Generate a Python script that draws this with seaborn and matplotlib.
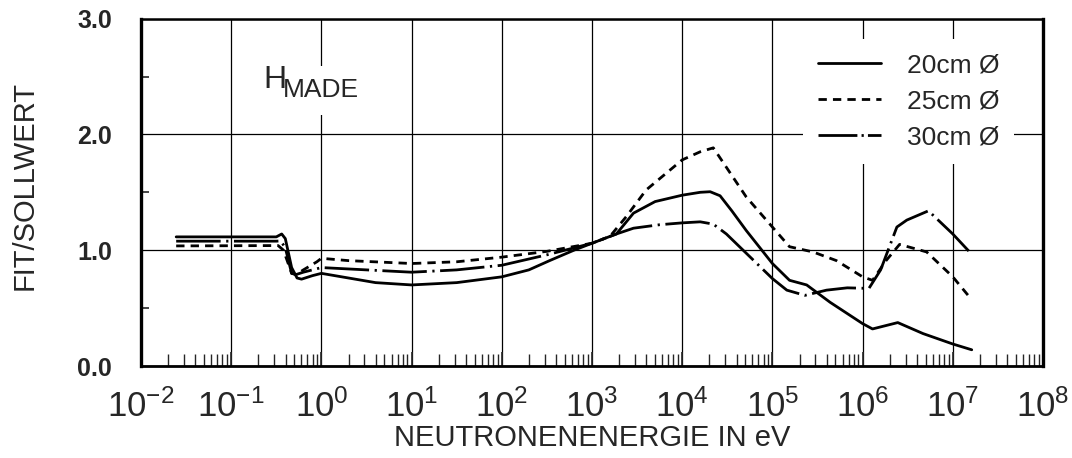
import numpy as np
import pandas as pd
import seaborn as sns
import matplotlib
matplotlib.use("Agg")
import matplotlib.pyplot as plt
from matplotlib import font_manager
from matplotlib.ticker import LogLocator, FixedLocator, MultipleLocator, LogFormatterSciNotation, FormatStrFormatter
from matplotlib.lines import Line2D

# log10 of neutron energy (eV) and fit/target ratio for each sphere diameter
logE_20 = [-1.61, -0.50, -0.44, -0.40, -0.33, -0.27, -0.22, -0.10, 0.00, 0.30, 0.60, 1.00,
           1.50, 2.00, 2.30, 2.53, 2.80, 3.00, 3.27, 3.46, 3.70, 4.00, 4.20, 4.31, 4.42, 4.55,
           4.71, 5.00, 5.19, 5.38, 5.64, 6.00, 6.11, 6.39, 6.67, 7.00, 7.21]
ratio_20 = [1.115, 1.115, 1.14, 1.10, 0.85, 0.76, 0.75, 0.78, 0.80, 0.76, 0.72, 0.70,
            0.72, 0.77, 0.83, 0.91, 1.00, 1.06, 1.14, 1.32, 1.42, 1.475, 1.50, 1.505, 1.47, 1.34,
            1.17, 0.885, 0.74, 0.70, 0.55, 0.366, 0.32, 0.375, 0.28, 0.19, 0.14]

logE_25 = [-1.61, -0.48, -0.42, -0.33, -0.28, -0.20, -0.05, 0.00, 0.30, 1.00, 1.50, 2.00,
           2.50, 3.00, 3.20, 3.38, 3.60, 4.00, 4.20, 4.345, 4.71, 5.00, 5.19, 5.45, 5.71, 6.00,
           6.11, 6.26, 6.41, 6.71, 7.00, 7.17]
ratio_25 = [1.037, 1.04, 1.00, 0.80, 0.79, 0.83, 0.90, 0.93, 0.91, 0.885, 0.90, 0.94,
            0.99, 1.06, 1.12, 1.29, 1.52, 1.78, 1.85, 1.884, 1.46, 1.20, 1.03, 0.985, 0.91, 0.77,
            0.74, 0.91, 1.05, 0.985, 0.77, 0.61]

logE_30 = [-1.61, -0.50, -0.45, -0.40, -0.33, -0.28, -0.20, 0.00, 0.50, 1.00, 1.50, 2.00,
           2.50, 3.00, 3.27, 3.46, 3.75, 4.00, 4.20, 4.345, 4.49, 5.00, 5.16, 5.36, 5.60,
           5.83, 6.07, 6.20, 6.38, 6.49, 6.73, 7.00, 7.18]
ratio_30 = [1.078, 1.078, 1.08, 1.02, 0.80, 0.79, 0.81, 0.85, 0.83, 0.81, 0.83, 0.87,
            0.96, 1.06, 1.14, 1.19, 1.22, 1.236, 1.245, 1.225, 1.14, 0.755, 0.655, 0.61, 0.655,
            0.675, 0.67, 0.83, 1.20, 1.26, 1.34, 1.14, 0.99]

series_labels = ["20cm Ø", "25cm Ø", "30cm Ø"]
y_ticks = [0.0, 1.0, 2.0, 3.0]

sns.set_theme(style="white")


def pick_font(candidates):
    names = {f.name for f in font_manager.fontManager.ttflist}
    for c in candidates:
        if c in names:
            return c
    return "DejaVu Sans"


narrow = pick_font(["Liberation Sans Narrow", "DejaVu Sans Condensed", "Liberation Sans"])
plt.rcParams["font.family"] = [narrow, "DejaVu Sans"]
plt.rcParams["mathtext.fontset"] = "custom"
plt.rcParams["mathtext.rm"] = narrow
plt.rcParams["mathtext.it"] = narrow
plt.rcParams["mathtext.bf"] = narrow

fig = plt.figure(figsize=(10.72, 4.58), dpi=100)
ax = fig.add_axes([141 / 1072, 1 - 366 / 458, (1043 - 141) / 1072, (366 - 18.6) / 458])

frames = []
for lab, le, r in zip(series_labels, [logE_20, logE_25, logE_30], [ratio_20, ratio_25, ratio_30]):
    frames.append(pd.DataFrame({"E": 10.0 ** np.array(le), "ratio": r, "Durchmesser": lab}))
df = pd.concat(frames, ignore_index=True)

styles = {"20cm Ø": None, "25cm Ø": (3, 2.2), "30cm Ø": (16, 2, 0.8, 2)}
legend_dashes = {"20cm Ø": None, "25cm Ø": (3, 2.2), "30cm Ø": (14, 1.5, 0.8, 1.5)}
handles = []
for lab in series_labels:
    sub = df[df["Durchmesser"] == lab]
    sns.lineplot(data=sub, x="E", y="ratio", ax=ax, color="black", lw=2.0,
                 sort=False, estimator=None, legend=False)
    line = ax.lines[-1]
    if styles[lab] is not None:
        line.set_dashes(styles[lab])
    h = Line2D([], [], color="black", lw=2.0)
    if legend_dashes[lab] is not None:
        h.set_dashes(legend_dashes[lab])
    handles.append(h)

ax.set_xscale("log")
ax.set_xlim(1e-2, 1e8)
ax.set_ylim(0, 3)

ax.xaxis.set_major_locator(LogLocator(base=10, numticks=20))
ax.xaxis.set_minor_locator(LogLocator(base=10, subs=np.arange(2, 10), numticks=20))
ax.xaxis.set_major_formatter(LogFormatterSciNotation())
ax.yaxis.set_major_locator(FixedLocator(y_ticks))
ax.yaxis.set_minor_locator(MultipleLocator(0.5))
ax.yaxis.set_major_formatter(FormatStrFormatter("%.1f"))

ax.grid(True, which="major", color="black", lw=0.9)
ax.tick_params(axis="x", which="major", direction="in", length=10, width=1.2, pad=17,
               labelsize=25, bottom=True)
ax.tick_params(axis="x", which="minor", direction="in", length=9, width=1.0, bottom=True)
ax.tick_params(axis="y", which="major", direction="in", length=0, pad=21, labelsize=18, left=True)
ax.tick_params(axis="y", which="minor", direction="in", length=6, width=1.2, left=True)
for t in ax.get_yticklabels():
    t.set_fontweight("bold")

for side, w in {"left": 2.4, "bottom": 2.0, "top": 1.8, "right": 2.4}.items():
    ax.spines[side].set_color("black")
    ax.spines[side].set_linewidth(w)

ax.set_xlabel("NEUTRONENENERGIE IN eV", fontsize=21, labelpad=0)
ax.set_ylabel("FIT/SOLLWERT", fontsize=21)
ax.yaxis.set_label_coords(-0.114, 0.52)

# detector label; the subscript part sits on a white patch over the grid
ax.text(10 ** -0.64, 2.40, "H", fontsize=23, ha="left", va="baseline", zorder=7)
ax.text(10 ** -0.425, 2.32, "MADE", fontsize=19, ha="left", va="baseline", zorder=5,
        bbox=dict(facecolor="white", edgecolor="none", pad=9))

leg = ax.legend(handles, series_labels, loc="upper left",
                bbox_to_anchor=(790 / 1072, 1 - 26 / 458), bbox_transform=fig.transFigure,
                frameon=True, facecolor="white", edgecolor="none", framealpha=1,
                fontsize=19, handlelength=2.4, handletextpad=1.0, labelspacing=0.45,
                borderpad=0.55, fancybox=False)
leg.set_zorder(6)

fig.savefig("out.png", dpi=100)
